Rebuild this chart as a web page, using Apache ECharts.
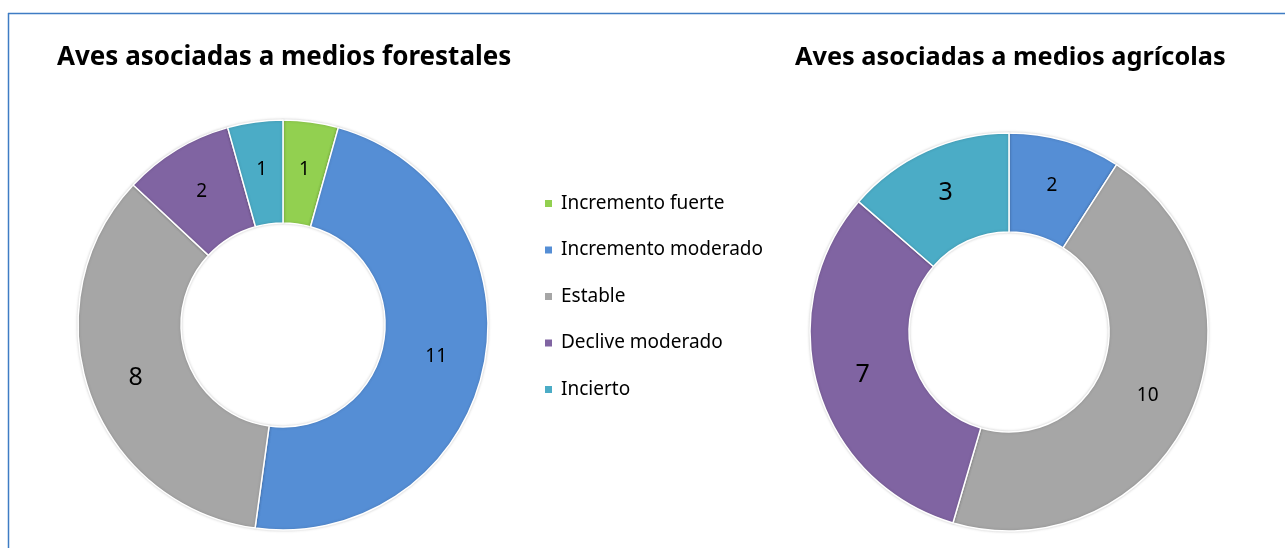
<!DOCTYPE html>
<html>
<head>
<meta charset="utf-8">
<script src="https://cdn.jsdelivr.net/npm/echarts@6/dist/echarts.min.js"></script>
<style>
  html, body { margin: 0; padding: 0; background: #fff; }
  #chart { width: 1285px; height: 548px; }
</style>
</head>
<body>
<div id="chart"></div>
<script>
// categories (legend order)
var categories = ["Incremento fuerte", "Incremento moderado", "Estable", "Declive moderado", "Incierto"];
var colors = ["#92D050", "#558ED5", "#A6A6A6", "#8064A2", "#4BACC6"];

// Aves asociadas a medios forestales
var forestales = [1, 11, 8, 2, 1];
// Aves asociadas a medios agrícolas
var agricolas = [0, 2, 10, 7, 3];

// label font size per slice (Excel-style, bigger on some)
var forestalesLabelSize = [19, 19, 25, 19, 19];
var agricolasLabelSize = [19, 19, 19, 25, 25];

function buildData(values, sizes) {
  var out = [];
  for (var i = 0; i < values.length; i++) {
    if (values[i] === 0) continue;
    out.push({
      name: categories[i],
      value: values[i],
      itemStyle: { color: colors[i] },
      label: { fontSize: sizes[i] }
    });
  }
  return out;
}

var chart = echarts.init(document.getElementById("chart"));

var pieBase = {
  type: "pie",
  startAngle: 90,
  clockwise: true,
  avoidLabelOverlap: false,
  label: {
    show: true,
    position: "inside",
    formatter: "{c}",
    color: "#000",
    fontFamily: "Noto Sans"
  },
  labelLine: { show: false },
  itemStyle: {
    borderColor: "#fff",
    borderWidth: 1.5,
    shadowColor: "rgba(0,0,0,0.18)",
    shadowBlur: 3
  },
  emphasis: { scale: false }
};

var titleStyle = { fontFamily: "Noto Sans", fontWeight: "bold", fontSize: 26, color: "#000" };

chart.setOption({
  animation: false,
  color: colors,
  title: [
    { text: "Aves asociadas a medios forestales", left: 52, top: 40, textStyle: titleStyle },
    { text: "Aves asociadas a medios agrícolas", left: 790, top: 40,
      textStyle: Object.assign({}, titleStyle, { fontSize: 25.3 }) }
  ],
  legend: {
    orient: "vertical",
    left: 543,
    top: 194,
    padding: 0,
    icon: "rect",
    itemWidth: 9,
    itemHeight: 9,
    itemGap: 27.5,
    data: categories,
    textStyle: { fontFamily: "Noto Sans", fontSize: 19, color: "#000", padding: [0, 0, 0, 3] }
  },
  graphic: [
    {
      type: "line",
      shape: { x1: 8, y1: 13.5, x2: 1285, y2: 13.5 },
      style: { stroke: "#3E7CC4", lineWidth: 1.5 }
    },
    {
      type: "line",
      shape: { x1: 8.5, y1: 13, x2: 8.5, y2: 548 },
      style: { stroke: "#3E7CC4", lineWidth: 1.5 }
    }
  ],
  series: [
    Object.assign({}, pieBase, {
      name: "forestales",
      center: [283, 325],
      radius: [102, 205],
      data: buildData(forestales, forestalesLabelSize)
    }),
    Object.assign({}, pieBase, {
      name: "agricolas",
      center: [1009, 332],
      radius: [100, 199],
      data: buildData(agricolas, agricolasLabelSize)
    })
  ]
});
</script>
</body>
</html>
